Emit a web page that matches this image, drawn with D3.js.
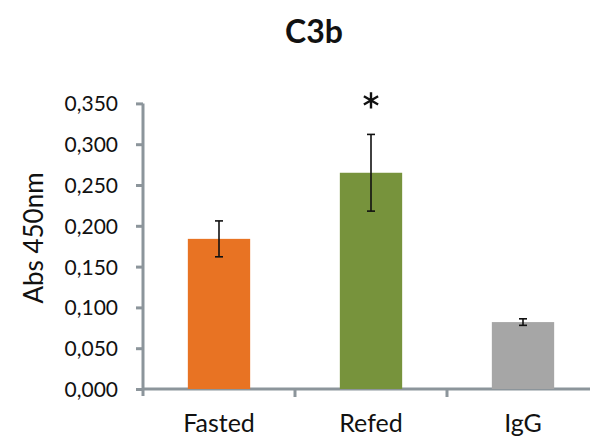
<!DOCTYPE html>
<html><head><meta charset="utf-8">
<script src="https://cdn.jsdelivr.net/npm/d3@7"></script>
<style>body{margin:0;background:#fff}svg{display:block}</style>
</head><body>
<script>
const categories = ["Fasted", "Refed", "IgG"];
const values = [0.184, 0.265, 0.082];
const errors = [0.022, 0.047, 0.004];
const colors = ["#e87323", "#77933c", "#a6a6a6"];
const yTicks = [0, 0.05, 0.1, 0.15, 0.2, 0.25, 0.3, 0.35];
const title = "C3b";
const yLabel = "Abs 450nm";
const significance = ["", "*", ""];

const W = 590, H = 441;
const svg = d3.select("body").append("svg").attr("width", W).attr("height", H);
const font = "Lato, 'Open Sans', sans-serif";
const x0 = 143, y0 = 389;
const x = d3.scaleBand().domain(categories).range([x0, x0 + 152 * 3]).paddingInner(0.59).paddingOuter(0.295);
const y = d3.scaleLinear().domain([0, 0.35]).range([y0, y0 - 285.6]);
const axisColor = "#8c959b";

// y axis
const yAxis = d3.axisLeft(y).tickValues(yTicks).tickFormat(d => d3.format(".3f")(d).replace(".", ",")).tickSize(7).tickSizeOuter(0);
const gy = svg.append("g").attr("transform", `translate(${x0},0)`).call(yAxis);
gy.attr("font-size", null).attr("font-family", null);
gy.select(".domain").attr("stroke", axisColor).attr("stroke-width", 3).attr("d", `M0,${y(0.35)}V${y0 + 7}`);
gy.selectAll(".tick line").attr("stroke", axisColor).attr("stroke-width", 3);
gy.selectAll(".tick text").style("font-family", font).style("font-size", "21px").attr("fill", "#111").attr("x", -25).attr("dy", "0.36em");

// x axis line
svg.append("line").attr("x1", x0).attr("x2", W).attr("y1", y0).attr("y2", y0).attr("stroke", axisColor).attr("stroke-width", 3);
const bounds = [1, 2, 3].map(i => x0 + x.step() * i);
svg.selectAll(".xt").data(bounds).enter().append("line").attr("x1", d => d).attr("x2", d => d).attr("y1", y0).attr("y2", y0 + 8).attr("stroke", axisColor).attr("stroke-width", 3);

// bars
svg.selectAll(".bar").data(categories).enter().append("rect")
  .attr("x", d => x(d)).attr("width", x.bandwidth())
  .attr("y", (d, i) => y(values[i])).attr("height", (d, i) => y0 - y(values[i]))
  .attr("fill", (d, i) => colors[i]);

// error bars
categories.forEach((c, i) => {
  const cx = x(c) + x.bandwidth() / 2;
  const g = svg.append("g").attr("stroke", "#111").attr("stroke-width", 1.6);
  g.append("line").attr("x1", cx).attr("x2", cx).attr("y1", y(values[i] + errors[i])).attr("y2", y(values[i] - errors[i]));
  [values[i] + errors[i], values[i] - errors[i]].forEach(v => {
    g.append("line").attr("x1", cx - 4).attr("x2", cx + 4).attr("y1", y(v)).attr("y2", y(v));
  });
  if (significance[i]) {
    svg.append("path").attr("d", d3.symbol(d3.symbolAsterisk, 190)())
      .attr("transform", `translate(${cx},${y(values[i] + errors[i]) - 34})`)
      .attr("fill", "none").attr("stroke", "#111").attr("stroke-width", 2.4);
  }
  svg.append("text").attr("x", cx).attr("y", 432).attr("text-anchor", "middle")
    .style("font-family", font).style("font-size", "25px").attr("fill", "#111").text(c);
});

// title
svg.append("text").attr("x", 314).attr("y", 43).attr("text-anchor", "middle").style("font-family", font)
  .attr("font-weight", "bold").style("font-size", "32px").attr("fill", "#111").text(title);
// y label
svg.append("text").attr("transform", `translate(43,238) rotate(-90)`).attr("text-anchor", "middle")
  .style("font-family", font).style("font-size", "26px").attr("fill", "#111").text(yLabel);
</script>
</body></html>
